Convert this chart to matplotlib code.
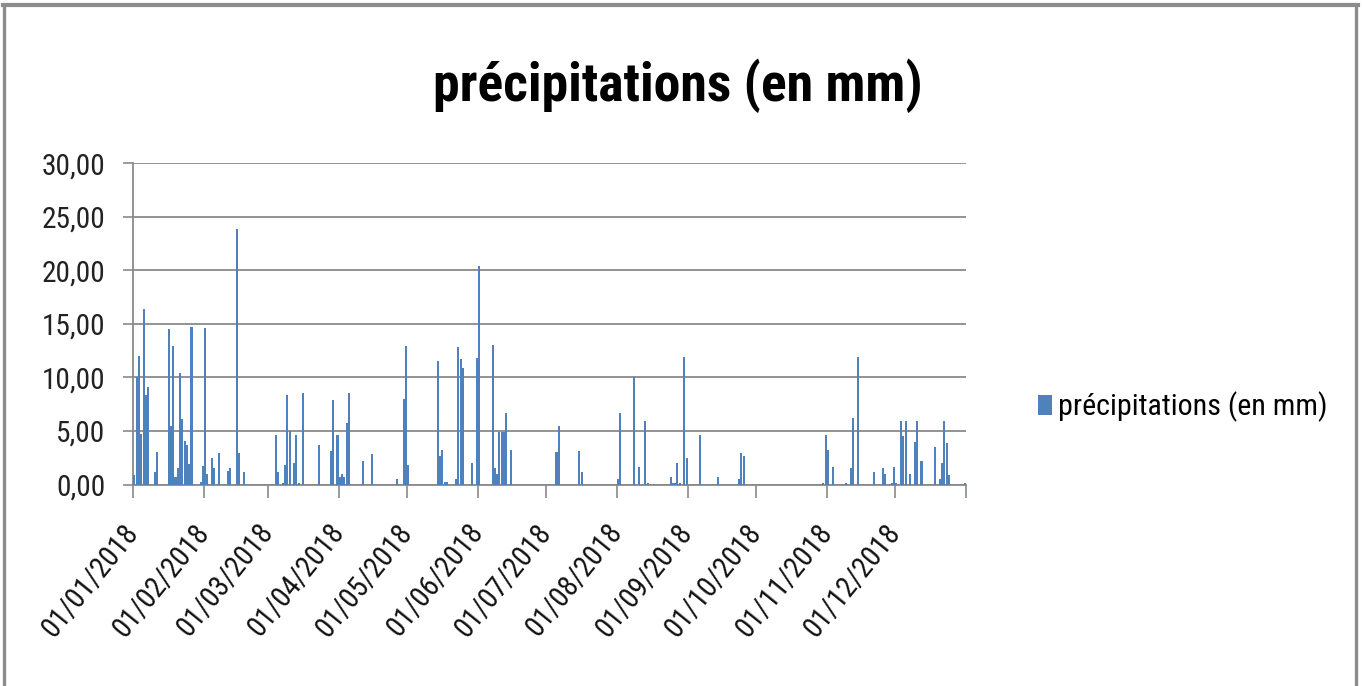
import matplotlib
matplotlib.use("Agg")
import matplotlib.pyplot as plt
import matplotlib.dates as mdates
from matplotlib import font_manager
from matplotlib.font_manager import FontProperties
from matplotlib.patches import Patch
from matplotlib.lines import Line2D
import pandas as pd

# ---------------- data ----------------
rain_dates = [
    "01/01", "02/01", "03/01", "04/01", "05/01", "06/01", "07/01", "10/01", "11/01",
    "16/01", "17/01", "18/01", "19/01", "20/01", "21/01", "22/01", "23/01", "24/01",
    "25/01", "26/01", "30/01", "31/01",
    "01/02", "02/02", "04/02", "05/02", "07/02", "11/02", "12/02", "15/02", "16/02", "18/02",
    "04/03", "05/03", "07/03", "08/03", "09/03", "10/03", "12/03", "13/03", "14/03",
    "16/03", "23/03", "28/03", "29/03", "31/03",
    "01/04", "02/04", "03/04", "04/04", "05/04", "11/04", "15/04", "26/04", "29/04", "30/04",
    "01/05", "14/05", "15/05", "16/05", "17/05", "18/05", "22/05", "23/05", "24/05",
    "25/05", "29/05", "31/05",
    "01/06", "07/06", "08/06", "09/06", "10/06", "11/06", "12/06", "13/06", "15/06",
    "05/07", "06/07", "15/07", "16/07",
    "01/08", "02/08", "08/08", "10/08", "13/08", "14/08", "24/08", "25/08", "26/08",
    "27/08", "28/08", "30/08", "31/08",
    "06/09", "14/09", "23/09", "24/09", "25/09",
    "30/10", "31/10",
    "01/11", "03/11", "09/11", "11/11", "12/11", "14/11", "21/11", "25/11", "26/11",
    "29/11", "30/11",
    "01/12", "03/12", "04/12", "05/12", "07/12", "09/12", "10/12", "12/12", "18/12",
    "20/12", "21/12", "22/12", "23/12", "24/12", "31/12",
]
rain_mm = [
    0.87, 10.0, 12.0, 4.7, 16.4, 8.4, 9.1, 1.2, 3.05,
    14.5, 5.5, 12.9, 0.7, 1.5, 10.4, 6.1, 4.05, 3.7,
    1.9, 14.7, 0.2, 1.7,
    14.6, 1.0, 2.5, 1.55, 2.9, 1.25, 1.55, 23.9, 2.9, 1.2,
    4.65, 1.15, 0.15, 1.85, 8.4, 5.0, 2.0, 4.65, 0.15,
    8.55, 3.7, 3.15, 7.9, 4.65,
    0.7, 1.0, 0.7, 5.7, 8.55, 2.2, 2.85, 0.5, 8.0, 12.9,
    1.85, 11.55, 2.7, 3.2, 0.2, 0.2, 0.55, 12.85, 11.75,
    10.9, 2.05, 11.85,
    20.4, 13.05, 1.5, 1.0, 4.9, 4.9, 4.9, 6.7, 3.2,
    3.0, 5.5, 3.15, 1.15,
    0.5, 6.7, 10.0, 1.65, 5.9, 0.15, 0.7, 0.15, 0.15,
    2.0, 0.15, 11.9, 2.5,
    4.65, 0.7, 0.5, 2.9, 2.65,
    0.15, 4.65,
    3.2, 1.65, 0.15, 1.5, 6.2, 11.9, 1.15, 1.5, 1.0,
    0.15, 1.65,
    0.15, 5.9, 4.5, 5.9, 1.0, 4.0, 5.9, 2.15, 3.5,
    0.5, 2.0, 5.9, 3.85, 0.85, 0.15,
]
year = 2018
month_labels = ["01/01/2018", "01/02/2018", "01/03/2018", "01/04/2018", "01/05/2018",
                "01/06/2018", "01/07/2018", "01/08/2018", "01/09/2018", "01/10/2018",
                "01/11/2018", "01/12/2018"]
y_ticks = [0, 5, 10, 15, 20, 25, 30]
series_name = "précipitations (en mm)"
title_text = "précipitations (en mm)"


# ---------------- fonts: prefer a narrow sans (Calibri-like proportions) ----------------
def pick_font(bold):
    prefs = ["liberation sans narrow", "roboto condensed", "open sans condensed",
             "dejavu sans condensed", "noto sans condensed", "arial narrow"]
    cands = []
    for f in font_manager.fontManager.ttflist:
        name = f.name.lower()
        fn = f.fname.lower()
        if "mono" in name or ("serif" in name and "sans" not in name):
            continue
        narrowish = ("narrow" in name or "condensed" in name or "narrow" in fn
                     or "condensed" in fn or str(f.stretch) in ("condensed", "semi-condensed"))
        if not narrowish:
            continue
        if "italic" in fn or "oblique" in fn or f.style != "normal":
            continue
        w = f.weight if isinstance(f.weight, int) else {"bold": 700, "normal": 400,
                                                        "regular": 400}.get(str(f.weight), 400)
        want = 700 if bold else 400
        key_name = name + (" condensed" if "condensed" in fn and "condensed" not in name else "")
        rank = len(prefs)
        for i, p in enumerate(prefs):
            if p in key_name or p.replace(" ", "") in fn.replace("-", "").replace("_", ""):
                rank = i
                break
        cands.append((rank, abs(w - want), f.fname))
    if cands:
        cands.sort()
        return FontProperties(fname=cands[0][2])
    return FontProperties(family="Liberation Sans", weight="bold" if bold else "normal")


fp_reg = pick_font(False)
fp_bold = pick_font(True)
fp_x = pick_font(False)

# ---------------- figure ----------------
W, H = 1362, 686
fig = plt.figure(figsize=(W / 100, H / 100), dpi=100)
fig.patch.set_facecolor("white")
renderer = fig.canvas.get_renderer()


def size_for(text, fp, target_px):
    p = fp.copy()
    p.set_size(20)
    w, h, d = renderer.get_text_width_height_descent(text, p, ismath=False)
    return 20 * target_px / w


title_size = size_for(title_text, fp_bold, 489)
legend_size = size_for(series_name, fp_reg, 269)
ylab_size = size_for("30,00", fp_reg, 64)
xlab_size = size_for("01/01/2018", fp_x, 136)

left_px, right_px, top_px, bot_px = 133.3, 966.0, 163.3, 484.5
ax = fig.add_axes([left_px / W, 1 - bot_px / H, (right_px - left_px) / W, (bot_px - top_px) / H])

dates = pd.to_datetime([d + "/" + str(year) for d in rain_dates], format="%d/%m/%Y")
xnum = mdates.date2num(dates) + 0.5
ax.bar(xnum, rain_mm, width=0.9, color="#4F81BD", edgecolor="none", zorder=3,
       label=series_name)

start = mdates.date2num(pd.Timestamp(year, 1, 1))
end = mdates.date2num(pd.Timestamp(year + 1, 1, 1))
ax.set_xlim(start, end)
ax.set_ylim(0, 30)

grid_c = "#8A8A8A"
ax.set_yticks(y_ticks)
yl = ax.set_yticklabels([f"{v:.2f}".replace(".", ",") for v in y_ticks], color="#222222")
for t in yl:
    t.set_fontproperties(fp_reg)
    t.set_fontsize(ylab_size)
ax.yaxis.grid(True, color=grid_c, linewidth=1.3, zorder=0)
ax.set_axisbelow(True)

month_starts = [mdates.date2num(pd.Timestamp(year, m, 1)) for m in range(1, 13)] + [end]
ax.set_xticks(month_starts)
xl = ax.set_xticklabels(month_labels + [""], rotation=51, ha="right", va="center",
                        rotation_mode="anchor", color="#111111")
for t in xl:
    t.set_fontproperties(fp_x)
    t.set_fontsize(xlab_size)

ax.tick_params(axis="y", length=7.2, width=1.2, color=grid_c, pad=13)
ax.tick_params(axis="x", length=9, width=1.2, color=grid_c, pad=22)

for s in ["top", "right"]:
    ax.spines[s].set_visible(False)
for s in ["left", "bottom"]:
    ax.spines[s].set_color(grid_c)
    ax.spines[s].set_linewidth(1.3)

# title
tp = fp_bold.copy()
tp.set_size(title_size)
fig.text(677.5 / W, 1 - 86 / H, title_text, ha="center", va="center",
         fontproperties=tp, color="#000000")

# legend
lp = fp_reg.copy()
lp.set_size(legend_size)
fs_px = legend_size * 100 / 72
handle = Patch(facecolor="#4F81BD", edgecolor="none")
fig.legend([handle], [series_name], loc="center left",
           bbox_to_anchor=(1038 / W, 1 - 407 / H), frameon=False, prop=lp,
           handlelength=14 / fs_px, handleheight=20 / fs_px, handletextpad=6 / fs_px,
           borderpad=0, borderaxespad=0)

# outer frame (screenshot border)
frame_c = "#8C8C8C"
fig.add_artist(Line2D([4.3 / W, 4.3 / W], [0, 1 - 5 / H], transform=fig.transFigure,
                      color=frame_c, linewidth=2.4))
fig.add_artist(Line2D([1356 / W, 1356 / W], [0, 1 - 5 / H], transform=fig.transFigure,
                      color=frame_c, linewidth=2.4))
fig.add_artist(Line2D([3 / W, 1357.5 / W], [1 - 5 / H, 1 - 5 / H], transform=fig.transFigure,
                      color=frame_c, linewidth=3.0))

fig.savefig("out.png", dpi=100, facecolor="white")
